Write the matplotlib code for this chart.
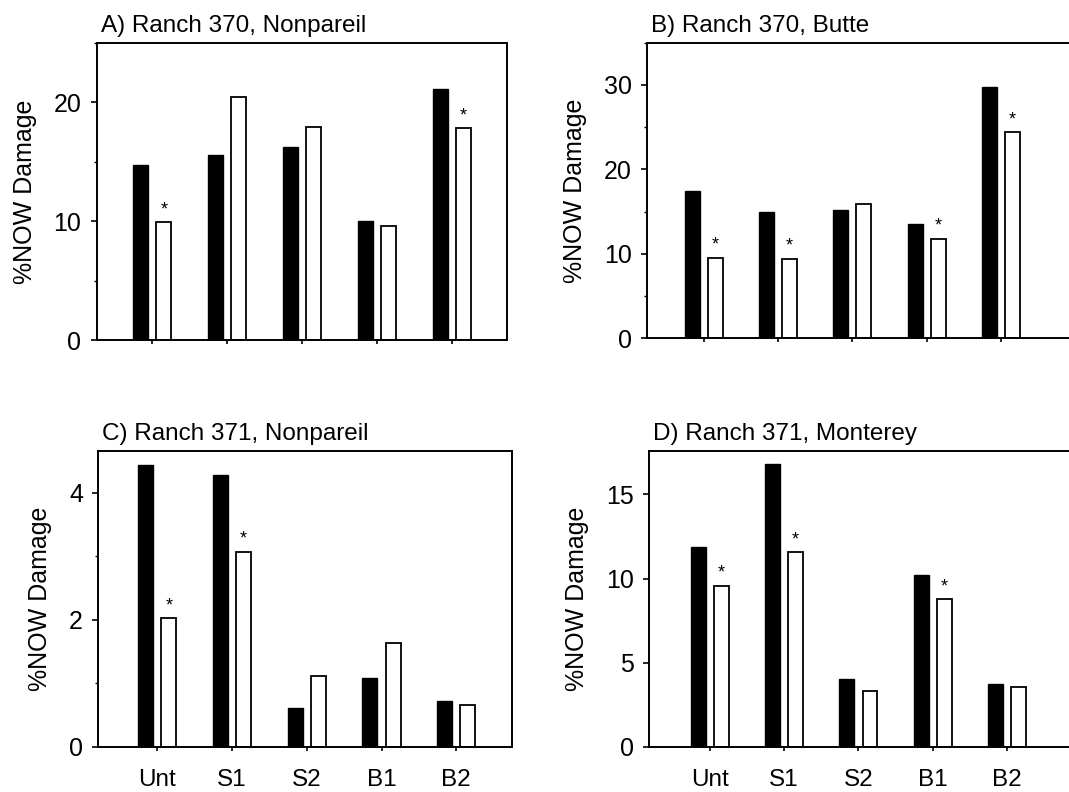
import matplotlib
matplotlib.use("Agg")
import matplotlib.pyplot as plt
import numpy as np

plt.rcParams['font.family'] = ['Liberation Sans', 'DejaVu Sans']

## data
treatments = ["Unt", "S1", "S2", "B1", "B2"]
titles = ["A) Ranch 370, Nonpareil", "B) Ranch 370, Butte",
          "C) Ranch 371, Nonpareil", "D) Ranch 371, Monterey"]

black_A = [14.7, 15.6, 16.2, 10.0, 21.1]
white_A = [9.9, 20.4, 17.9, 9.6, 17.8]
star_A = [True, False, False, False, True]

black_B = [17.4, 14.9, 15.2, 13.5, 29.7]
white_B = [9.5, 9.4, 15.9, 11.8, 24.4]
star_B = [True, True, False, True, True]

black_C = [4.44, 4.27, 0.61, 1.08, 0.72]
white_C = [2.02, 3.07, 1.12, 1.63, 0.65]
star_C = [True, True, False, False, False]

black_D = [11.9, 16.8, 4.0, 10.2, 3.73]
white_D = [9.57, 11.55, 3.33, 8.77, 3.55]
star_D = [True, True, False, True, False]

fig = plt.figure(figsize=(10.69, 7.92), dpi=100)

## axes boxes (left, bottom, width, height) in figure fraction
boxes = [(0.0905, 0.5703, 0.3838, 0.3758),
         (0.6055, 0.5729, 0.3945, 0.3732),
         (0.0920, 0.0572, 0.3872, 0.3737),
         (0.6071, 0.0572, 0.3929, 0.3737)]
xlims = [(-0.74, 4.74), (-0.76, 4.915), (-0.79, 4.75), (-0.82, 4.835)]
ylims = [25, 35, 4.66, 17.6]
majors = [[0, 10, 20], [0, 10, 20, 30], [0, 2, 4], [0, 5, 10, 15]]
minors = [[5, 15, 25], [5, 15, 25, 35], [1, 3], []]

blacks = [black_A, black_B, black_C, black_D]
whites = [white_A, white_B, white_C, white_D]
stars = [star_A, star_B, star_C, star_D]

x = np.arange(len(treatments))
w = 0.2
off = 0.155

for i in range(4):
    ax = fig.add_axes(boxes[i])
    ax.bar(x - off, blacks[i], w, color='black', edgecolor='black', linewidth=1.0)
    ax.bar(x + off, whites[i], w, color='white', edgecolor='black', linewidth=1.3)

    for j in range(len(treatments)):
        if stars[i][j]:
            ax.annotate("*", (x[j] + off, whites[i][j]), xytext=(0, 3),
                        textcoords='offset points', ha='center', va='bottom',
                        fontsize=13)

    ax.set_xlim(xlims[i])
    ax.set_ylim(0, ylims[i])
    ax.set_yticks(majors[i])
    ax.set_yticks(minors[i], minor=True)
    ax.set_xticks(x)
    if i >= 2:
        ax.set_xticklabels(treatments, fontsize=17.5)
    else:
        ax.set_xticklabels([])
    ax.tick_params(axis='y', labelsize=18, length=4, width=1.2, pad=7)
    ax.tick_params(axis='y', which='minor', length=2.5, width=1.0)
    ax.tick_params(axis='x', length=3, width=1.2, pad=13)

    for s in ax.spines.values():
        s.set_linewidth(1.4)
    if i in (1, 3):
        ax.spines['right'].set_visible(False)

    ax.set_ylabel("%NOW Damage", fontsize=18, labelpad=12)
    ax.set_title(titles[i], loc='left', fontsize=17.5, pad=8, x=0.01)

fig.savefig("out.png", dpi=100)
